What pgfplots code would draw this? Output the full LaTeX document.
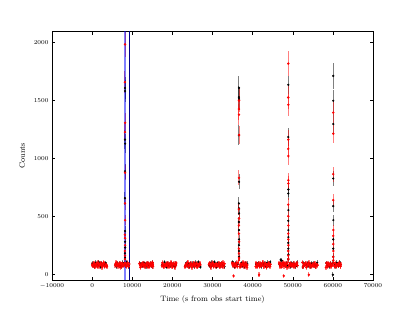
\documentclass[border=0pt]{standalone}
\usepackage{pgfplots}
\usepackage{pgfplotstable}
\pgfplotsset{compat=1.18}

\pgfplotstableread[row sep=\\]{
x y e\\
0 82 20\\ 250 71 20\\ 500 95 20\\ 750 64 20\\ 1000 88 20\\ 1250 77 20\\ 1500 101 20\\ 1750 69 20\\ 2000 84 20\\ 2250 92 20\\ 2500 58 20\\ 2750 79 20\\ 3000 97 20\\ 3250 73 20\\ 3500 86 20\\ 3700 66 20\\
5750 77 20\\ 6000 101 20\\ 6250 69 20\\ 6500 84 20\\ 6750 92 20\\ 7000 58 20\\ 7250 79 20\\ 7500 97 20\\ 7750 73 20\\ 8000 86 20\\ 8250 95 20\\ 8500 66 20\\ 8750 82 20\\ 9000 71 20\\ 9250 88 20\\
11800 92 20\\ 12050 58 20\\ 12300 79 20\\ 12550 97 20\\ 12800 73 20\\ 13050 86 20\\ 13300 66 20\\ 13550 82 20\\ 13800 71 20\\ 14050 95 20\\ 14300 64 20\\ 14550 88 20\\ 14800 77 20\\ 15050 101 20\\ 15200 69 20\\
17400 73 20\\ 17650 86 20\\ 17900 66 20\\ 18150 82 20\\ 18400 71 20\\ 18650 95 20\\ 18900 64 20\\ 19150 88 20\\ 19400 77 20\\ 19650 101 20\\ 19900 69 20\\ 20150 84 20\\ 20400 92 20\\ 20650 58 20\\ 20900 79 20\\ 21000 97 20\\
23100 64 20\\ 23350 88 20\\ 23600 77 20\\ 23850 101 20\\ 24100 69 20\\ 24350 84 20\\ 24600 92 20\\ 24850 58 20\\ 25100 79 20\\ 25350 97 20\\ 25600 73 20\\ 25850 86 20\\ 26100 66 20\\ 26350 82 20\\ 26600 71 20\\ 26850 95 20\\ 27000 80 20\\
29100 84 20\\ 29350 92 20\\ 29600 58 20\\ 29850 79 20\\ 30100 97 20\\ 30350 73 20\\ 30600 86 20\\ 30850 66 20\\ 31100 82 20\\ 31350 71 20\\ 31600 95 20\\ 31850 64 20\\ 32100 88 20\\ 32350 77 20\\ 32600 101 20\\ 32850 69 20\\ 33000 90 20\\
34900 97 20\\ 35150 73 20\\ 35250 -15 20\\ 35400 86 20\\ 35650 66 20\\ 35900 82 20\\ 36150 71 20\\ 36400 95 20\\ 36850 64 20\\ 37100 88 20\\ 37350 77 20\\ 37600 101 20\\ 37850 69 20\\ 38100 84 20\\ 38350 92 20\\ 38600 58 20\\ 38700 79 20\\
40750 66 20\\ 41000 82 20\\ 41250 71 20\\ 41500 95 20\\ 41600 -5 20\\ 41750 64 20\\ 42000 88 20\\ 42250 77 20\\ 42500 101 20\\ 42750 69 20\\ 43000 84 20\\ 43250 92 20\\ 43500 58 20\\ 43750 79 20\\ 44000 97 20\\ 44250 73 20\\ 44500 86 20\\
46600 95 20\\ 46850 64 20\\ 47100 88 20\\ 47350 77 20\\ 47600 101 20\\ 47750 -15 20\\ 47850 69 20\\ 48100 84 20\\ 48350 92 20\\ 48600 58 20\\ 49150 79 20\\ 49400 97 20\\ 49650 73 20\\ 49900 86 20\\ 50150 66 20\\ 50400 82 20\\ 50650 71 20\\ 50900 90 20\\ 51200 75 20\\
52400 101 20\\ 52650 69 20\\ 52900 84 20\\ 53150 92 20\\ 53400 58 20\\ 53650 79 20\\ 53900 97 20\\ 54000 -5 20\\ 54150 73 20\\ 54400 86 20\\ 54650 66 20\\ 54900 82 20\\ 55150 71 20\\ 55400 95 20\\ 55650 64 20\\ 55900 88 20\\ 56200 77 20\\
58250 58 20\\ 58500 79 20\\ 58750 97 20\\ 59000 73 20\\ 59250 86 20\\ 59500 66 20\\ 59750 82 20\\ 60350 71 20\\ 60600 95 20\\ 60850 64 20\\ 61100 88 20\\ 61350 77 20\\ 61600 101 20\\ 61850 69 20\\ 62000 84 20\\
125 75 20\\ 375 90 20\\ 625 68 20\\ 875 83 20\\ 1125 96 20\\ 1375 62 20\\ 1625 87 20\\ 1875 79 20\\ 2125 93 20\\ 2375 70 20\\ 2625 85 20\\ 2875 99 20\\ 3125 66 20\\ 3375 81 20\\ 3625 74 20\\
5875 89 20\\ 6125 75 20\\ 6375 90 20\\ 6625 68 20\\ 6875 83 20\\ 7125 96 20\\ 7375 62 20\\ 7625 87 20\\ 7875 79 20\\ 8125 93 20\\ 8375 70 20\\ 8625 85 20\\ 8875 99 20\\ 9125 66 20\\
11925 81 20\\ 12175 74 20\\ 12425 89 20\\ 12675 75 20\\ 12925 90 20\\ 13175 68 20\\ 13425 83 20\\ 13675 96 20\\ 13925 62 20\\ 14175 87 20\\ 14425 79 20\\ 14675 93 20\\ 14925 70 20\\ 15125 85 20\\
17525 99 20\\ 17775 66 20\\ 18025 81 20\\ 18275 74 20\\ 18525 89 20\\ 18775 75 20\\ 19025 90 20\\ 19275 68 20\\ 19525 83 20\\ 19775 96 20\\ 20025 62 20\\ 20275 87 20\\ 20525 79 20\\ 20775 93 20\\
23225 70 20\\ 23475 85 20\\ 23725 99 20\\ 23975 66 20\\ 24225 81 20\\ 24475 74 20\\ 24725 89 20\\ 24975 75 20\\ 25225 90 20\\ 25475 68 20\\ 25725 83 20\\ 25975 96 20\\ 26225 62 20\\ 26475 87 20\\ 26725 79 20\\
29225 93 20\\ 29475 70 20\\ 29725 85 20\\ 29975 99 20\\ 30225 66 20\\ 30475 81 20\\ 30725 74 20\\ 30975 89 20\\ 31225 75 20\\ 31475 90 20\\ 31725 68 20\\ 31975 83 20\\ 32225 96 20\\ 32475 62 20\\ 32725 87 20\\
35025 79 20\\ 35275 93 20\\ 35525 70 20\\ 35775 85 20\\ 36025 99 20\\ 36275 66 20\\ 36975 81 20\\ 37225 74 20\\ 37475 89 20\\ 37725 75 20\\ 37975 90 20\\ 38225 68 20\\ 38475 83 20\\
40875 96 20\\ 41125 62 20\\ 41375 87 20\\ 41625 79 20\\ 41875 93 20\\ 42125 70 20\\ 42375 85 20\\ 42625 99 20\\ 42875 66 20\\ 43125 81 20\\ 43375 74 20\\ 43625 89 20\\ 43875 75 20\\ 44125 90 20\\ 44375 68 20\\
46725 83 20\\ 46975 96 20\\ 47225 62 20\\ 47475 87 20\\ 47725 79 20\\ 47975 93 20\\ 48225 70 20\\ 48475 85 20\\ 48725 99 20\\ 49025 66 20\\ 49275 81 20\\ 49525 74 20\\ 49775 89 20\\ 50025 75 20\\ 50275 90 20\\ 50525 68 20\\ 50775 83 20\\ 51075 96 20\\
52525 62 20\\ 52775 87 20\\ 53025 79 20\\ 53275 93 20\\ 53525 70 20\\ 53775 85 20\\ 54025 99 20\\ 54275 66 20\\ 54525 81 20\\ 54775 74 20\\ 55025 89 20\\ 55275 75 20\\ 55525 90 20\\ 55775 68 20\\ 56075 83 20\\
58375 96 20\\ 58625 62 20\\ 58875 87 20\\ 59125 79 20\\ 59375 93 20\\ 59625 70 20\\ 59875 85 20\\ 60225 99 20\\ 60475 66 20\\ 60725 81 20\\ 60975 74 20\\ 61225 89 20\\ 61475 75 20\\ 61725 90 20\\ 61875 68 20\\
}\redbase

\pgfplotstableread[row sep=\\]{
x y e\\
8200 1980 110\\ 8180 1655 95\\ 8220 1305 85\\ 8190 1225 80\\ 8210 875 65\\ 8200 610 55\\ 8230 465 45\\ 8170 340 40\\ 8200 310 38\\ 8220 250 35\\ 8180 200 32\\ 8210 160 30\\ 8190 130 28\\
36610 1497 95\\ 36590 1423 90\\ 36600 1375 90\\ 36620 1200 80\\ 36600 830 65\\ 36580 560 52\\ 36610 480 48\\ 36590 420 45\\ 36600 350 40\\ 36620 280 36\\ 36580 220 33\\ 36600 180 30\\ 36610 140 28\\ 36590 120 27\\
48900 1815 110\\ 48880 1523 95\\ 48920 1460 95\\ 48900 1160 82\\ 48910 1019 75\\ 48890 1080 78\\ 48900 810 65\\ 48920 782 64\\ 48880 600 55\\ 48900 500 50\\ 48910 420 46\\ 48890 350 42\\ 48900 300 38\\ 48920 250 35\\ 48880 200 32\\ 48900 160 30\\ 48910 130 28\\
60100 1392 90\\ 60110 1211 80\\ 60090 862 66\\ 60100 638 56\\ 60110 381 43\\ 60090 330 40\\ 60100 260 36\\ 60110 200 32\\ 60090 150 30\\ 60100 120 28\\
}\redflare

\pgfplotstableread[row sep=\\]{
x y e\\
125 90 20\\ 375 76 20\\ 625 68 20\\ 875 99 20\\ 1125 84 20\\ 1375 72 20\\ 1625 105 20\\ 1875 81 20\\ 2125 62 20\\ 2375 93 20\\ 2625 78 20\\ 2875 88 20\\ 3125 70 20\\ 3375 96 20\\ 3625 74 20\\
5875 85 20\\ 6125 67 20\\ 6375 92 20\\ 6625 80 20\\ 6875 90 20\\ 7125 76 20\\ 7375 68 20\\ 7625 99 20\\ 7875 84 20\\ 8375 72 20\\ 8625 105 20\\ 8875 81 20\\ 9125 62 20\\
11925 93 20\\ 12175 78 20\\ 12425 88 20\\ 12675 70 20\\ 12925 96 20\\ 13175 74 20\\ 13425 85 20\\ 13675 67 20\\ 13925 92 20\\ 14175 80 20\\ 14425 90 20\\ 14675 76 20\\ 14925 68 20\\ 15075 99 20\\
17525 84 20\\ 17775 72 20\\ 18025 105 20\\ 18275 81 20\\ 18525 62 20\\ 18775 93 20\\ 19025 78 20\\ 19275 88 20\\ 19525 70 20\\ 19775 96 20\\ 20025 74 20\\ 20275 85 20\\ 20525 67 20\\ 20775 92 20\\ 20875 80 20\\
23225 70 20\\ 23475 96 20\\ 23725 74 20\\ 23975 85 20\\ 24225 67 20\\ 24475 92 20\\ 24725 80 20\\ 24975 90 20\\ 25225 76 20\\ 25475 68 20\\ 25725 99 20\\ 25975 84 20\\ 26225 72 20\\ 26475 105 20\\ 26725 81 20\\ 26975 62 20\\
29225 76 20\\ 29475 68 20\\ 29725 99 20\\ 29975 84 20\\ 30225 72 20\\ 30475 105 20\\ 30725 81 20\\ 30975 62 20\\ 31225 93 20\\ 31475 78 20\\ 31725 88 20\\ 31975 70 20\\ 32225 96 20\\ 32475 74 20\\ 32725 85 20\\ 32975 67 20\\
35025 105 20\\ 35275 81 20\\ 35525 62 20\\ 35775 93 20\\ 36025 78 20\\ 36275 88 20\\ 36975 70 20\\ 37225 96 20\\ 37475 74 20\\ 37725 85 20\\ 37975 67 20\\ 38225 92 20\\ 38475 80 20\\ 38625 90 20\\
40875 88 20\\ 41125 70 20\\ 41375 96 20\\ 41625 74 20\\ 41875 85 20\\ 42125 67 20\\ 42375 92 20\\ 42625 80 20\\ 42875 90 20\\ 43125 76 20\\ 43375 68 20\\ 43625 99 20\\ 43875 84 20\\ 44125 72 20\\ 44375 105 20\\
46725 81 20\\ 46975 123 20\\ 47225 118 20\\ 47475 93 20\\ 47725 78 20\\ 47975 88 20\\ 48225 70 20\\ 48475 96 20\\ 48725 74 20\\ 49275 85 20\\ 49525 67 20\\ 49775 92 20\\ 50025 80 20\\ 50275 90 20\\ 50525 76 20\\ 50775 68 20\\ 51075 99 20\\
52525 62 20\\ 52775 93 20\\ 53025 78 20\\ 53275 88 20\\ 53525 70 20\\ 53775 96 20\\ 54025 74 20\\ 54275 85 20\\ 54525 67 20\\ 54775 92 20\\ 55025 80 20\\ 55275 90 20\\ 55525 76 20\\ 55775 68 20\\ 56075 99 20\\
58375 96 20\\ 58625 74 20\\ 58875 85 20\\ 59125 67 20\\ 59375 92 20\\ 59625 80 20\\ 59875 90 20\\ 60000 -5 20\\ 60475 76 20\\ 60725 68 20\\ 60975 99 20\\ 61225 84 20\\ 61475 72 20\\ 61725 105 20\\ 61875 81 20\\
8200 1605 95\\ 8210 1578 95\\ 8190 1160 80\\ 8220 1125 80\\ 8200 887 65\\ 8180 655 55\\ 8210 372 42\\ 8200 280 36\\ 8230 230 33\\ 8190 180 30\\ 8210 140 28\\
36600 1606 100\\ 36580 1526 95\\ 36620 1509 95\\ 36600 1197 85\\ 36610 796 65\\ 36590 610 55\\ 36600 567 55\\ 36620 524 50\\ 36580 450 47\\ 36600 380 42\\ 36610 300 38\\ 36590 250 35\\ 36600 200 32\\ 36620 150 30\\
48900 1632 75\\ 48890 1182 80\\ 48910 730 62\\ 48900 696 60\\ 48920 552 52\\ 48880 460 48\\ 48900 380 43\\ 48910 320 40\\ 48890 270 36\\ 48900 220 33\\ 48920 170 30\\ 48880 130 28\\
60100 1709 112\\ 60090 1495 95\\ 60110 1294 88\\ 60100 825 65\\ 60090 587 55\\ 60110 466 48\\ 60100 300 38\\ 60090 220 33\\ 60110 150 30\\
}\blacktab

\definecolor{navyline}{rgb}{0,0,0.55}

\begin{document}
\begin{tikzpicture}
\begin{axis}[
  name=ax,
  scale only axis,
  width=321pt, height=248.3pt,
  xmin=-10000, xmax=70000,
  ymin=-50, ymax=2090,
  xtick={-10000,0,...,70000},
  ytick={0,500,...,2000},
  scaled x ticks=false,
  /pgf/number format/set thousands separator={},
  tick align=inside,
  major tick length=3pt,
  tick style={black, line width=0.4pt},
  axis line style={black, line width=0.5pt},
  ticklabel style={font=\fontsize{6.5}{7}\selectfont},
  label style={font=\fontsize{7.8}{9}\selectfont},
  xlabel={Time (s from obs start time)},
  ylabel={Counts},
  xlabel style={yshift=-1pt},
  ylabel style={yshift=2pt},
  clip=true,
]
\addplot[only marks, mark=*, mark size=0.9pt, color=black,
  error bars/.cd, y dir=both, y explicit,
  error mark=none,
  error bar style={color=black, opacity=0.5, line width=1pt}]
  table[x=x, y=y, y error=e] {\blacktab};
\addplot[only marks, mark=*, mark size=1.0pt, color=red,
  error bars/.cd, y dir=both, y explicit,
  error mark=none,
  error bar style={color=red, opacity=0.5, line width=1.4pt}]
  table[x=x, y=y, y error=e] {\redbase};
\addplot[only marks, mark=*, mark size=1.0pt, color=red,
  error bars/.cd, y dir=both, y explicit,
  error mark=none,
  error bar style={color=red, opacity=0.5, line width=1pt}]
  table[x=x, y=y, y error=e] {\redflare};
\addplot[color=blue, opacity=0.5, line width=2.5pt] coordinates {(8200,-100) (8200,2200)};
\addplot[color=navyline, line width=0.8pt] coordinates {(9300,-100) (9300,2200)};
\end{axis}
\path ([xshift=-52pt,yshift=-32pt]ax.south west) rectangle ([xshift=42pt,yshift=31.7pt]ax.north east);
\end{tikzpicture}
\end{document}
